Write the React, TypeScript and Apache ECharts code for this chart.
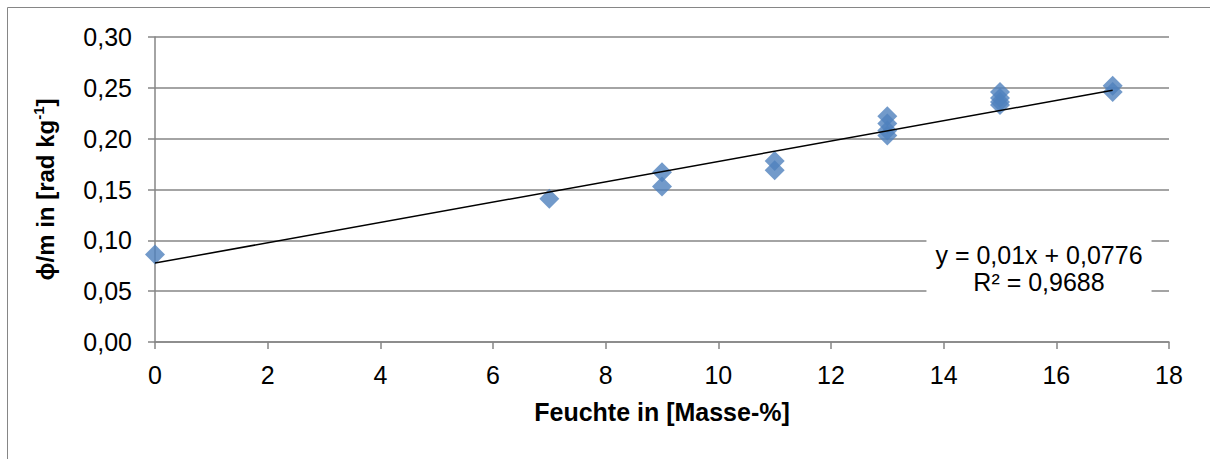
import React, { useEffect, useRef } from "react";
import * as echarts from "echarts";

const moisture = [0, 7, 9, 9, 11, 11, 13, 13, 13, 13, 15, 15, 15, 15, 17, 17];
const phiPerMass = [0.086, 0.141, 0.167, 0.153, 0.178, 0.169, 0.222, 0.215, 0.208, 0.203, 0.246, 0.24, 0.236, 0.233, 0.252, 0.246];
const trendSlope = 0.01;
const trendIntercept = 0.0776;
const trendRange = [0, 17];
const equationText = "y = 0,01x + 0,0776";
const r2Text = "R² = 0,9688";
const xTicks = [0, 2, 4, 6, 8, 10, 12, 14, 16, 18];
const yMax = 0.3;

export default function App() {
  const ref = useRef<HTMLDivElement>(null);
  useEffect(() => {
    const chart = echarts.init(ref.current!, null, { renderer: "svg" });
    const gray = "#868686";
    const font = "'Liberation Sans', Arial, sans-serif";
    chart.setOption({
      animation: false,
      backgroundColor: "#ffffff",
      grid: { left: 155, right: 41, top: 37, bottom: 117 },
      xAxis: {
        type: "value",
        min: xTicks[0],
        max: xTicks[xTicks.length - 1],
        interval: 2,
        name: "Feuchte in [Masse-%]",
        nameLocation: "middle",
        nameGap: 57,
        nameTextStyle: { fontFamily: font, fontSize: 25, fontWeight: "bold", color: "#000" },
        axisLine: { show: true, lineStyle: { color: gray, width: 1.5 } },
        axisTick: { show: true, length: 7, lineStyle: { color: gray, width: 1.5 } },
        axisLabel: { fontFamily: font, fontSize: 25, color: "#000", margin: 20 },
        splitLine: { show: false },
      },
      yAxis: {
        type: "value",
        min: 0,
        max: yMax,
        interval: 0.05,
        name: "{a|ϕ/m in [rad kg}{s|-1}{a|]}",
        nameLocation: "middle",
        nameGap: 96,
        nameRotate: 90,
        nameTextStyle: {
          fontFamily: font,
          fontSize: 24,
          fontWeight: "bold",
          color: "#000",
          rich: {
            a: { fontFamily: font, fontSize: 24, fontWeight: "bold", color: "#000", lineHeight: 28 },
            s: { fontFamily: font, fontSize: 15, fontWeight: "bold", color: "#000", verticalAlign: "top", lineHeight: 28, padding: [0, 0, 10, 0] },
          },
        },
        axisLine: { show: true, lineStyle: { color: gray, width: 1.5 } },
        axisTick: { show: true, length: 7, lineStyle: { color: gray, width: 1.5 } },
        axisLabel: {
          fontFamily: font,
          fontSize: 25,
          color: "#000",
          margin: 23,
          formatter: (v: number) => v.toFixed(2).replace(".", ","),
        },
        splitLine: { show: true, lineStyle: { color: gray, width: 1.5 } },
      },
      series: [
        {
          type: "scatter",
          symbol: "diamond",
          symbolSize: 20,
          itemStyle: { color: "#4F81BD" },
          data: moisture.map((x, i) => [x, phiPerMass[i]]),
          z: 3,
        },
        {
          type: "line",
          symbol: "none",
          lineStyle: { color: "#000", width: 1.5 },
          data: trendRange.map((x) => [x, trendSlope * x + trendIntercept]),
          z: 4,
        },
      ],
      graphic: [
        {
          type: "rect",
          shape: { x: 7.5, y: 7.5, width: 1250, height: 470 },
          style: { fill: "none", stroke: gray, lineWidth: 1 },
          silent: true,
        },
        {
          type: "text",
          x: 1039,
          y: 268,
          z: 10,
          style: {
            text: equationText + "\n" + r2Text,
            fontFamily: font,
            fontSize: 25,
            lineHeight: 27,
            fill: "#000",
            align: "center",
            verticalAlign: "middle",
            backgroundColor: "#fff",
            padding: [2, 9, 2, 9],
          },
        },
      ],
    });
    return () => chart.dispose();
  }, []);
  return (
    <div
      ref={ref}
      style={{ position: "fixed", left: 0, top: 0, width: 1210, height: 459 }}
    />
  );
}
